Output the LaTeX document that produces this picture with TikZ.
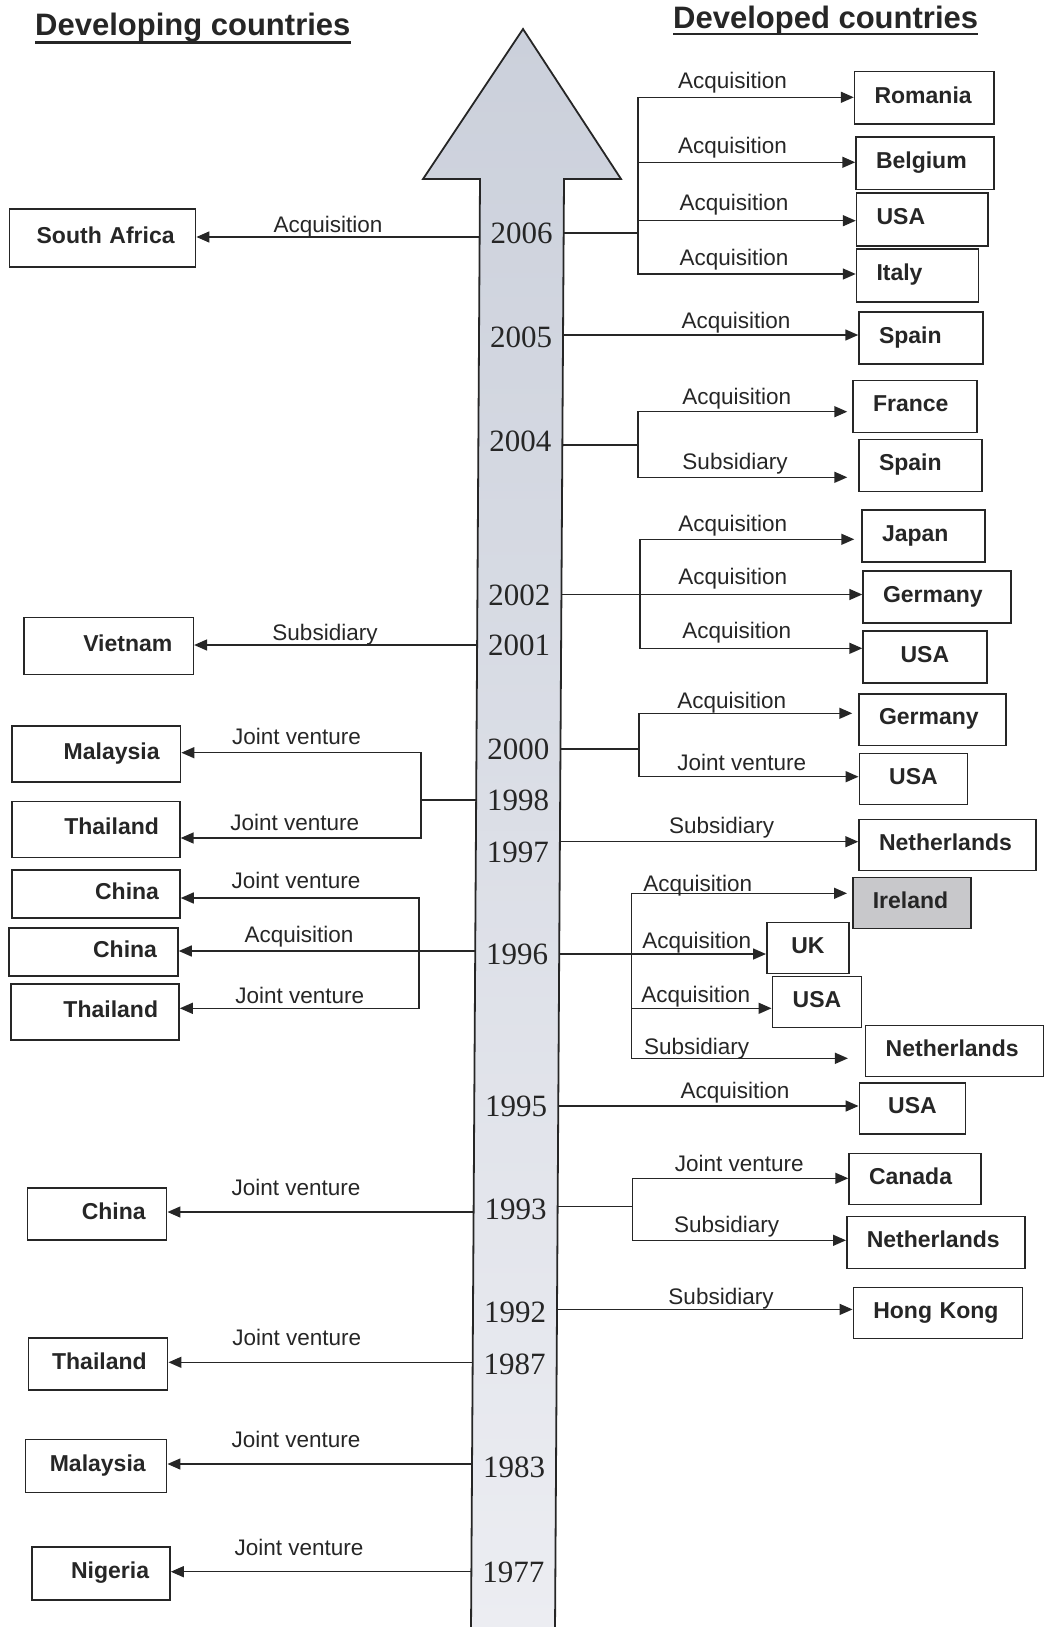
\documentclass[tikz,border=0pt]{standalone}
\usepackage{fontspec}
\usetikzlibrary{arrows.meta}
\newfontfamily\sansf{Liberation Sans}
\newfontfamily\serf{Liberation Serif}
\definecolor{ink}{HTML}{262626}
\definecolor{shafttop}{RGB}{203,208,219}
\definecolor{shaftbot}{RGB}{236,237,242}
\definecolor{irefill}{RGB}{200,200,203}

\begin{document}
\begin{tikzpicture}[x=1pt,y=-1pt,
  conn/.style={draw=ink, line width=1.5pt, line cap=rect},
  arr/.style={conn, -{Triangle[length=13pt,width=11pt]}},
  box/.style={draw=ink, line width=1.5pt, fill=white, inner ysep=0pt,
    text height=16.5pt, text depth=6pt, text=ink,
    font=\sansf\bfseries\fontsize{23}{27}\selectfont},
  lbox/.style={box, inner xsep=21pt, align=right},
  rbox/.style={box, inner xsep=20pt, align=left},
  cbox/.style={box, inner xsep=0pt, align=center},
  lbl/.style={font=\sansf\fontsize{22.5}{26}\selectfont, text=ink,
    inner sep=0pt, text height=16pt, text depth=0pt},
  yr/.style={font=\serf\fontsize{31}{36}\selectfont, text=ink, inner sep=0pt,
    minimum width=84pt, text height=21pt, text depth=0pt},
  head/.style={font=\sansf\bfseries\fontsize{31}{36}\selectfont, text=ink,
    inner sep=0pt, anchor=base west},
]
\useasboundingbox (0,0) rectangle (1051,1627);

% time arrow
\fill[top color=shafttop, bottom color=shaftbot]
  (480,179) -- (423,179) -- (523,29) -- (621,179) -- (564,179)
  -- (555,1632) -- (471,1632) -- cycle;
\draw[ink, line width=1.8pt, line join=miter]
  (471,1632) -- (480,179) -- (423,179) -- (523,29) -- (621,179)
  -- (564,179) -- (555,1632);

% headings
\node[head] (hdev) at (35,35.5) {Developing countries};
\node[head] (hded) at (673,29) {Developed countries};
\draw[ink, line width=2.5pt] ([yshift=-7pt]hdev.base west) -- ([yshift=-7pt]hdev.base east);
\draw[ink, line width=2.5pt] ([yshift=-5pt]hded.base west) -- ([yshift=-5pt]hded.base east);

% years
\node[yr] (y2006) at (521.7,233) {2006};
\node[yr] (y2005) at (521.0,337) {2005};
\node[yr] (y2004) at (520.4,441) {2004};
\node[yr] (y2002) at (519.4,594.5) {2002};
\node[yr] (y2001) at (519.1,645) {2001};
\node[yr] (y2000) at (518.4,749) {2000};
\node[yr] (y1998) at (518.1,800) {1998};
\node[yr] (y1997) at (517.8,852) {1997};
\node[yr] (y1996) at (517.2,954) {1996};
\node[yr] (y1995) at (516.2,1106) {1995};
\node[yr] (y1993) at (515.6,1208.7) {1993};
\node[yr] (y1992) at (515.0,1312.4) {1992};
\node[yr] (y1987) at (514.6,1364.3) {1987};
\node[yr] (y1983) at (514.0,1467) {1983};
\node[yr] (y1977) at (513.3,1571.7) {1977};

% developing countries
\node[lbox, text width=144.3pt, minimum height=58pt]   (sa)  at (102.5,238)    {South Africa};
\node[lbox, text width=127.3pt, minimum height=56.6pt] (vn)  at (108.7,646)    {Vietnam};
\node[lbox, text width=126.4pt, minimum height=56pt]   (my1) at (96.4,754)     {Malaysia};
\node[lbox, text width=126pt,   minimum height=55.6pt] (th1) at (95.9,829.5)   {Thailand};
\node[lbox, text width=126pt,   minimum height=48pt]   (cn1) at (96,894)       {China};
\node[lbox, text width=126.8pt, minimum height=48.3pt] (cn2) at (93.6,951.9)   {China};
\node[lbox, text width=126.3pt, minimum height=56pt]   (th2) at (94.9,1012)    {Thailand};
\node[lbox, text width=97pt,    minimum height=52.3pt] (cn3) at (97.2,1213.9)  {China};
\node[lbox, text width=97.4pt,  minimum height=52.3pt] (th3) at (98,1363.9)    {Thailand};
\node[lbox, text width=99pt,    minimum height=53pt]   (my2) at (96.2,1465.8)  {Malaysia};
\node[lbox, text width=96.3pt,  minimum height=53.3pt] (ng)  at (100.9,1573.4) {Nigeria};

% developed countries
\node[rbox, text width=99.5pt,  minimum height=52.3pt] (rom)  at (924.3,97.9)   {Romania};
\node[rbox, text width=98pt,    minimum height=52.3pt] (bel)  at (925,163.2)    {Belgium};
\node[rbox, text width=91.5pt,  minimum height=53pt]   (usa1) at (922.3,219.5)  {USA};
\node[rbox, text width=82pt,    minimum height=52.7pt] (ita)  at (917.5,275.4)  {Italy};
\node[rbox, text width=84pt,    minimum height=52pt]   (spa1) at (921,338)      {Spain};
\node[rbox, text width=84pt,    minimum height=52pt]   (fra)  at (915,406.7)    {France};
\node[rbox, text width=82.7pt,  minimum height=52pt]   (spa2) at (920.4,465.7)  {Spain};
\node[rbox, text width=83pt,    minimum height=51.7pt] (jpn)  at (923.5,535.9)  {Japan};
\node[rbox, text width=107.7pt, minimum height=51.7pt] (ger1) at (936.9,596.9)  {Germany};
\node[cbox, minimum width=123.7pt, minimum height=51.7pt] (usa2) at (924.9,656.9) {USA};
\node[rbox, text width=107pt,   minimum height=51.3pt] (ger2) at (932.5,719.7)  {Germany};
\node[cbox, minimum width=108.4pt, minimum height=51pt] (usa3) at (913.5,778.8) {USA};
\node[rbox, text width=137pt,   minimum height=51.4pt] (ned1) at (947.5,845)    {Netherlands};
\node[rbox, fill=irefill, text width=78.3pt, minimum height=51pt] (ire) at (911.9,902.8) {Ireland};
\node[cbox, minimum width=82.3pt, minimum height=50.6pt] (uk)   at (807.9,948)  {UK};
\node[cbox, minimum width=89.4pt, minimum height=51pt]   (usa4) at (817,1002.2) {USA};
\node[rbox, text width=137.6pt, minimum height=51pt]   (ned2) at (954.5,1051.2) {Netherlands};
\node[cbox, minimum width=106.4pt, minimum height=51.3pt] (usa5) at (912.5,1108.4) {USA};
\node[rbox, text width=92pt,    minimum height=51pt]   (can)  at (915,1178.8)   {Canada};
\node[rbox, text width=138.3pt, minimum height=51.6pt] (ned3) at (935.9,1242.5) {Netherlands};
\node[rbox, text width=129.4pt, minimum height=51.4pt] (hk)   at (938,1313)     {Hong Kong};

% connectors to developing countries
\coordinate (a06) at ([yshift=-4pt]y2006.west);
\draw[arr] (a06) -- (a06 -| sa.east);
\coordinate (a01) at (y2001.west);
\draw[arr] (a01) -- (a01 -| vn.east);

\coordinate (a98) at (y1998.west);
\coordinate (k98t) at (421,752.7);
\coordinate (k98b) at (421,838);
\draw[conn] (a98) -- (a98 -| k98t);
\draw[conn] (k98t) -- (k98b);
\draw[arr] (k98t) -- (k98t -| my1.east);
\draw[arr] (k98b) -- (k98b -| th1.east);

\coordinate (a96) at ([yshift=3pt]y1996.west);
\coordinate (k96t) at (419,898);
\coordinate (k96b) at (419,1008.3);
\draw[arr] (a96) -- (a96 -| cn2.east);
\draw[conn] (k96t) -- (k96b);
\draw[arr] (k96t) -- (k96t -| cn1.east);
\draw[arr] (k96b) -- (k96b -| th2.east);

\coordinate (a93) at ([yshift=-3.3pt]y1993.west);
\draw[arr] (a93) -- (a93 -| cn3.east);
\coordinate (a87) at ([yshift=2pt]y1987.west);
\draw[arr] (a87) -- (a87 -| th3.east);
\coordinate (a83) at ([yshift=3pt]y1983.west);
\draw[arr] (a83) -- (a83 -| my2.east);
\coordinate (a77) at (y1977.west);
\draw[arr] (a77) -- (a77 -| ng.east);

% connectors to developed countries
\coordinate (b06) at (y2006.east);
\coordinate (k06t) at (638,97.3);
\coordinate (k06a) at (638,162.3);
\coordinate (k06c) at (638,220.7);
\coordinate (k06b) at (638,274);
\draw[conn] (b06) -- (b06 -| k06t);
\draw[conn] (k06t) -- (k06b);
\draw[arr] (k06t) -- (k06t -| rom.west);
\draw[arr] (k06a) -- (k06a -| bel.west);
\draw[arr] (k06c) -- (k06c -| usa1.west);
\draw[arr] (k06b) -- (k06b -| ita.west);

\coordinate (b05) at ([yshift=2pt]y2005.east);
\draw[arr] (b05) -- (b05 -| spa1.west);

\coordinate (b04) at ([yshift=-4pt]y2004.east);
\coordinate (k04t) at (638,411.7);
\coordinate (k04b) at (638,477.3);
\draw[conn] (b04) -- (b04 -| k04t);
\draw[conn] (k04t) -- (k04b);
\draw[arr, shorten >=5pt] (k04t) -- (k04t -| fra.west);
\draw[arr, shorten >=11pt] (k04b) -- (k04b -| spa2.west);

\coordinate (b02) at (y2002.east);
\coordinate (k02t) at (640,539.3);
\coordinate (k02b) at (640,648.3);
\draw[arr] (b02) -- (b02 -| ger1.west);
\draw[conn] (k02t) -- (k02b);
\draw[arr, shorten >=7pt] (k02t) -- (k02t -| jpn.west);
\draw[arr] (k02b) -- (k02b -| usa2.west);

\coordinate (b00) at (y2000.east);
\coordinate (k00t) at (639,713.3);
\coordinate (k00b) at (639,776.7);
\draw[conn] (b00) -- (b00 -| k00t);
\draw[conn] (k00t) -- (k00b);
\draw[arr, shorten >=6pt] (k00t) -- (k00t -| ger2.west);
\draw[arr] (k00b) -- (k00b -| usa3.west);

\coordinate (b97) at ([yshift=10.3pt]y1997.east);
\draw[arr] (b97) -- (b97 -| ned1.west);

\coordinate (b96) at (y1996.east);
\coordinate (k96r) at (631.7,893.3);
\coordinate (k96m) at (631.7,1008.3);
\coordinate (k96s) at (631.7,1058.3);
\draw[arr] (b96) -- (b96 -| uk.west);
\draw[conn] (k96r) -- (k96s);
\draw[arr, shorten >=5pt] (k96r) -- (k96r -| ire.west);
\draw[arr] (k96m) -- (k96m -| usa4.west);
\draw[arr, shorten >=17pt] (k96s) -- (k96s -| ned2.west);

\coordinate (b95) at (y1995.east);
\draw[arr] (b95) -- (b95 -| usa5.west);

\coordinate (b93) at ([yshift=2pt]y1993.east);
\coordinate (k93t) at (632.7,1178.3);
\coordinate (k93b) at (632.7,1240.3);
\draw[conn] (b93) -- (b93 -| k93t);
\draw[conn] (k93t) -- (k93b);
\draw[arr] (k93t) -- (k93t -| can.west);
\draw[arr] (k93b) -- (k93b -| ned3.west);

\coordinate (b92) at ([yshift=3pt]y1992.east);
\draw[arr] (b92) -- (b92 -| hk.west);

% mode-of-entry labels, left
\node[lbl] (l01) at (328,224)     {Acquisition};
\node[lbl] (l02) at (325,632.3)   {Subsidiary};
\node[lbl] (l03) at (296.6,736.7) {Joint venture};
\node[lbl] (l04) at (294.7,822)   {Joint venture};
\node[lbl] (l05) at (296,880.7)   {Joint venture};
\node[lbl] (l06) at (299,934)     {Acquisition};
\node[lbl] (l07) at (299.7,995)   {Joint venture};
\node[lbl] (l08) at (296,1187.3)  {Joint venture};
\node[lbl] (l09) at (296.7,1337.7){Joint venture};
\node[lbl] (l10) at (296,1439.3)  {Joint venture};
\node[lbl] (l11) at (299,1547.3)  {Joint venture};

% mode-of-entry labels, right
\node[lbl] (r01) at (732.6,81)    {Acquisition};
\node[lbl] (r02) at (732.6,145.7) {Acquisition};
\node[lbl] (r03) at (734,202.7)   {Acquisition};
\node[lbl] (r04) at (734,257.7)   {Acquisition};
\node[lbl] (r05) at (736,320.7)   {Acquisition};
\node[lbl] (r06) at (736.7,396)   {Acquisition};
\node[lbl] (r07) at (735,461.7)   {Subsidiary};
\node[lbl] (r08) at (732.7,523.3) {Acquisition};
\node[lbl] (r09) at (732.7,576)   {Acquisition};
\node[lbl] (r10) at (736.7,630.7) {Acquisition};
\node[lbl] (r11) at (731.7,700.7) {Acquisition};
\node[lbl] (r12) at (741.7,762.3) {Joint venture};
\node[lbl] (r13) at (721.7,825)   {Subsidiary};
\node[lbl] (r14) at (697.7,883.3) {Acquisition};
\node[lbl] (r15) at (696.7,940.7) {Acquisition};
\node[lbl] (r16) at (695.7,994)   {Acquisition};
\node[lbl] (r17) at (696.7,1046.7){Subsidiary};
\node[lbl] (r18) at (735,1090.7)  {Acquisition};
\node[lbl] (r19) at (739.3,1163.3){Joint venture};
\node[lbl] (r20) at (726.7,1224)  {Subsidiary};
\node[lbl] (r21) at (721,1296.7)  {Subsidiary};
\end{tikzpicture}
\end{document}
